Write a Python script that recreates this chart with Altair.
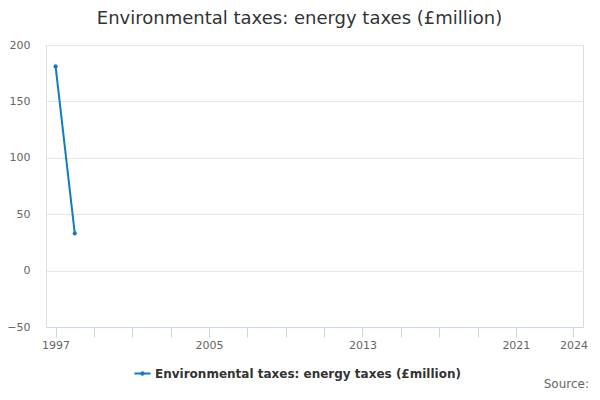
import altair as alt
import pandas as pd

years = [1997, 1998]
values = [181, 33]
series_name = "Environmental taxes: energy taxes (£million)"
tick_years = [1997, 1999, 2001, 2003, 2005, 2007, 2009, 2011, 2013, 2015, 2017, 2019, 2021, 2024]
label_years = [1997, 2005, 2013, 2021, 2024]
y_ticks = [-50, 0, 50, 100, 150, 200]

df = pd.DataFrame({"year": years, "value": values, "series": [series_name] * len(years)})

FONT = "DejaVu Sans"
LINE_COLOR = "#0f7cc4"

label_expr = "indexof([" + ",".join(str(y) for y in label_years) + "], datum.value) >= 0 ? datum.value : ''"

x = alt.X(
    "year:Q",
    scale=alt.Scale(domain=[1996.5, 2024.5], nice=False, zero=False),
    axis=alt.Axis(
        values=tick_years,
        labelExpr=label_expr,
        title=None,
        grid=False,
        domainColor="#ccd6eb",
        tickColor="#ccd6eb",
        tickSize=10,
        labelFont=FONT,
        labelFontSize=11,
        labelColor="#666666",
        labelPadding=2,
        labelFlush=False,
        labelOverlap=False,
    ),
)
y = alt.Y(
    "value:Q",
    scale=alt.Scale(domain=[-50, 200], nice=False),
    axis=alt.Axis(
        values=y_ticks,
        title=None,
        domain=False,
        ticks=False,
        gridColor="#e6e6e6",
        labelFont=FONT,
        labelFontSize=11,
        labelColor="#666666",
        labelPadding=16,
    ),
)
color = alt.Color(
    "series:N",
    scale=alt.Scale(domain=[series_name], range=[LINE_COLOR]),
    legend=alt.Legend(
        title=None,
        orient="none",
        legendX=88,
        legendY=320,
        labelFont=FONT,
        labelFontSize=12,
        labelFontWeight="bold",
        labelColor="#333333",
        symbolType="M-1,-0.12 H1 V0.12 H-1 Z M-0.28,0 A0.28,0.28 0 1,1 0.28,0 A0.28,0.28 0 1,1 -0.28,0 Z",
        symbolSize=260,
        symbolFillColor=LINE_COLOR,
        symbolStrokeColor=LINE_COLOR,
        symbolStrokeWidth=0,
        labelLimit=500,
    ),
)

line = alt.Chart(df).mark_line(strokeWidth=2).encode(x=x, y=y, color=color)
points = alt.Chart(df).mark_point(filled=True, size=18, opacity=1).encode(x=x, y=y, color=color)

source = alt.Chart(pd.DataFrame({"t": ["Source:"]})).mark_text(
    font=FONT, fontSize=12, color="#666666", align="right", baseline="alphabetic"
).encode(text="t:N", x=alt.value(543), y=alt.value(343))

chart = (
    alt.layer(line, points, source)
    .properties(
        width=537,
        height=282,
        padding={"left": 38, "top": 37, "right": 9, "bottom": 65},
        autosize=alt.AutoSizeParams(type="none"),
        title=alt.TitleParams(
            text=series_name,
            font=FONT,
            fontSize=18,
            fontWeight="normal",
            color="#333333",
            anchor="middle",
            dx=-15,
            offset=11,
        ),
    )
    .configure_view(stroke=None)
    .configure(background="white")
)

chart.save("out.html", embed_options={"renderer": "svg", "actions": False})
